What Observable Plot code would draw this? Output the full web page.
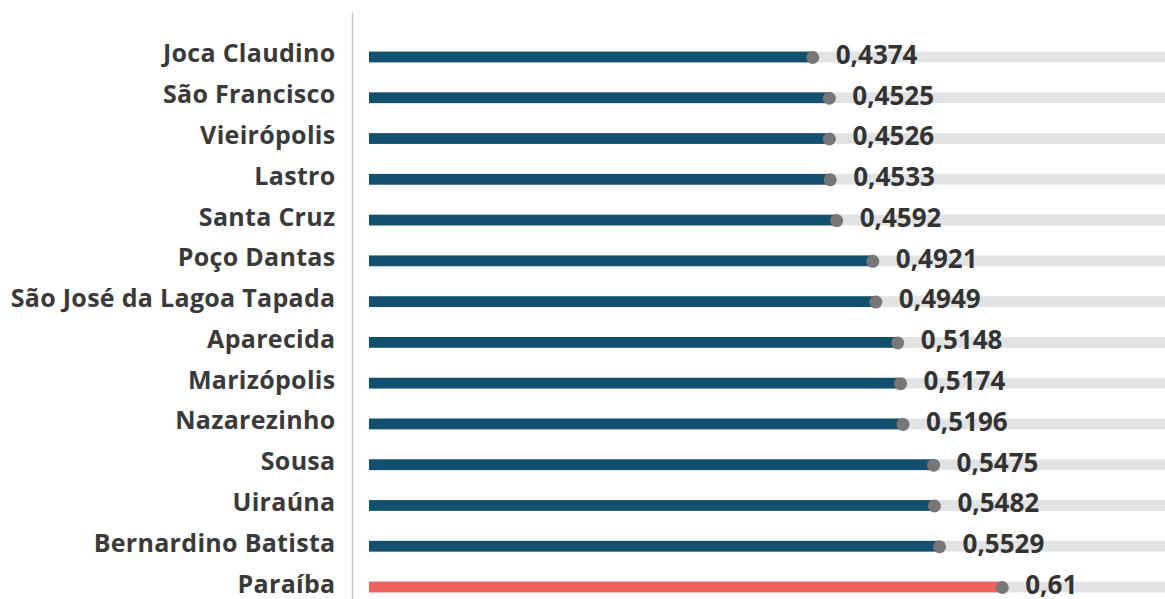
<!DOCTYPE html>
<html>
<head>
<meta charset="utf-8">
<script src="https://cdn.jsdelivr.net/npm/d3@7"></script>
<script src="https://cdn.jsdelivr.net/npm/@observablehq/plot@0.6"></script>
<style>
  html, body { margin: 0; padding: 0; background: #fff; }
  svg g[aria-label="y-axis tick label"] text { letter-spacing: 0.3px; }
</style>
</head>
<body>
<div id="chart"></div>
<script>
const names = [
  "Joca Claudino", "São Francisco", "Vieirópolis", "Lastro", "Santa Cruz",
  "Poço Dantas", "São José da Lagoa Tapada", "Aparecida", "Marizópolis",
  "Nazarezinho", "Sousa", "Uiraúna", "Bernardino Batista", "Paraíba"
];
const values = [
  0.4374, 0.4525, 0.4526, 0.4533, 0.4592,
  0.4921, 0.4949, 0.5148, 0.5174,
  0.5196, 0.5475, 0.5482, 0.5529, 0.61
];
const highlight = "Paraíba";

const data = names.map((name, i) => ({name, value: values[i], state: name === highlight}));

const W = 1165, H = 599;
const inset = 15;

const chart = Plot.plot({
  width: W,
  height: H,
  marginLeft: 369,
  marginRight: 0,
  marginTop: 13,
  marginBottom: 0,
  style: {fontFamily: "'Open Sans', sans-serif", background: "#fff"},
  x: {domain: [0.0337, 0.7587], axis: null},
  y: {domain: names, range: [36.6, 607.4], padding: 0, round: false, axis: null},
  marks: [
    Plot.frame({anchor: "left", dx: -17, stroke: "#c8c8c8", strokeWidth: 1.5}),
    Plot.barX(data, {y: "name", x1: 0, x2: 1, fill: "#e2e3e5", insetTop: inset, insetBottom: inset, clip: true}),
    Plot.barX(data, {y: "name", x1: 0, x2: "value", fill: d => d.state ? "#f0625e" : "#134f6f", insetTop: inset, insetBottom: inset, clip: true}),
    Plot.dot(data, {y: "name", x: "value", r: 6.5, fill: "#777777"}),
    Plot.text(data, {
      y: "name", x: "value", text: d => String(d.value).replace(".", ","),
      dx: 23, dy: -2, textAnchor: "start", fontSize: 26, fontWeight: 700, fill: "#333333",
      fontFamily: "'Open Sans', sans-serif"
    }),
    Plot.axisY({tickSize: 0, tickPadding: 34, dy: -3, fontSize: 25, fontWeight: 700, fill: "#3a3a3a", label: null,
      fontFamily: "'Open Sans', sans-serif"})
  ]
});

document.getElementById("chart").appendChild(chart);
</script>
</body>
</html>
